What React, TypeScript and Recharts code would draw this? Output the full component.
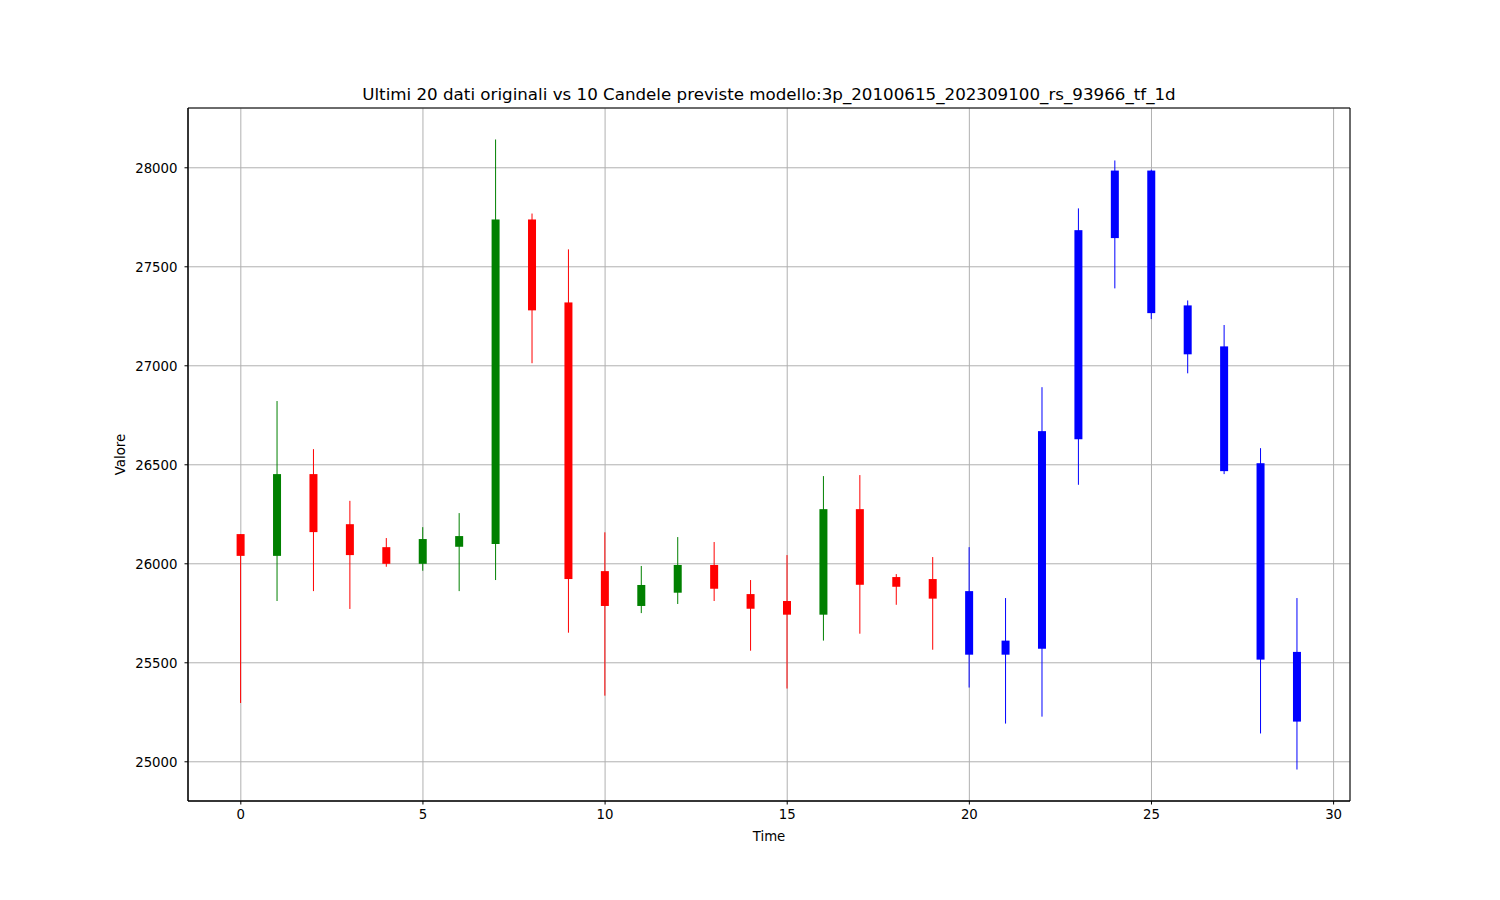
import { Bar, CartesianGrid, ComposedChart, ReferenceArea, XAxis, YAxis } from 'recharts'

const TITLE = 'Ultimi 20 dati originali vs 10 Candele previste modello:3p_20100615_202309100_rs_93966_tf_1d'
const ORIGINAL_COUNT = 20

const opens = [26150, 26040, 26453, 26200, 26084, 26000, 26086, 26100, 27739, 27320, 25963, 25787, 25854, 25994, 25847, 25812, 25743, 26276, 25933, 25923, 25862, 25541, 25571, 26629, 27645, 27986, 27305, 27098, 26508, 25555]
const closes = [26040, 26453, 26160, 26044, 26000, 26125, 26140, 27739, 27280, 25923, 25787, 25893, 25994, 25874, 25773, 25743, 26276, 25894, 25884, 25824, 25541, 25612, 26670, 27685, 27986, 27266, 27058, 26468, 25516, 25203]
const highs = [26150, 26822, 26579, 26318, 26130, 26185, 26256, 28143, 27769, 27588, 26159, 25989, 26135, 26110, 25918, 26044, 26443, 26448, 25948, 26034, 26084, 25827, 26892, 27795, 28037, 27990, 27330, 27206, 26584, 25827]
const lows = [25297, 25812, 25862, 25772, 25985, 25965, 25862, 25918, 27013, 25652, 25334, 25751, 25797, 25812, 25561, 25370, 25612, 25647, 25793, 25566, 25375, 25193, 25228, 26399, 27391, 27236, 26962, 26453, 25143, 24961]

const xTicks = [0, 5, 10, 15, 20, 25, 30]
const yTicks = [25000, 25500, 26000, 26500, 27000, 27500, 28000]
const X_DOMAIN = [-1.45, 30.45]
const Y_DOMAIN = [24802, 28302]

const data = opens.map((open, i) => ({
  t: i,
  open,
  close: closes[i],
  high: highs[i],
  low: lows[i],
  color: i >= ORIGINAL_COUNT ? '#0000ff' : closes[i] >= open ? '#008000' : '#ff0000',
}))

const FONT = 'DejaVu Sans, sans-serif'
const tickStyle = { fill: '#000', fontSize: 13.3, fontFamily: FONT }

// wick spans the bar (low..high); body placed using the bar's own pixel ratio
function Candle(props: any) {
  const { x, y, width, height, payload } = props
  const top = Math.min(y, y + height)
  const h = Math.abs(height)
  const span = payload.high - payload.low
  const ratio = span > 0 ? h / span : 0
  const bodyTop = top + (payload.high - Math.max(payload.open, payload.close)) * ratio
  const bodyH = Math.max(Math.abs(payload.open - payload.close) * ratio, 1)
  const cx = x + width / 2
  return (
    <g>
      <line x1={cx} x2={cx} y1={top} y2={top + h} stroke={payload.color} strokeWidth={1} />
      <rect x={x} y={bodyTop} width={width} height={bodyH} fill={payload.color} />
    </g>
  )
}

export default function App() {
  return (
    <div style={{ position: 'absolute', left: 0, top: 0, background: '#fff' }}>
      <ComposedChart
        width={1500}
        height={900}
        data={data}
        margin={{ top: 108, right: 150, bottom: 55, left: 108 }}
      >
        <CartesianGrid stroke="#b0b0b0" strokeWidth={1} />
        <XAxis
          dataKey="t"
          type="number"
          domain={X_DOMAIN}
          ticks={xTicks}
          allowDataOverflow
          height={44}
          tickSize={3.5}
          tickMargin={5}
          tick={tickStyle}
          stroke="#000"
          tickLine={{ stroke: '#000' }}
          axisLine={{ stroke: '#000' }}
          label={{ value: 'Time', position: 'insideBottom', offset: 4, style: { fill: '#000', fontSize: 13.3, fontFamily: FONT } }}
        />
        <YAxis
          type="number"
          domain={Y_DOMAIN}
          ticks={yTicks}
          allowDataOverflow
          width={80}
          tickSize={3.5}
          tickMargin={7}
          tick={tickStyle}
          tickLine={{ stroke: '#000' }}
          axisLine={{ stroke: '#000' }}
          label={{ value: 'Valore', angle: -90, position: 'insideLeft', offset: 12, style: { fill: '#000', fontSize: 13.3, fontFamily: FONT, textAnchor: 'middle' } }}
        />
        <Bar
          dataKey={(d: any) => [d.low, d.high]}
          barSize={8}
          shape={<Candle />}
          isAnimationActive={false}
        />
        <ReferenceArea
          x1={X_DOMAIN[0]}
          x2={X_DOMAIN[1]}
          y1={Y_DOMAIN[0]}
          y2={Y_DOMAIN[1]}
          fill="none"
          fillOpacity={0}
          stroke="#000"
          strokeWidth={1}
          ifOverflow="visible"
          label={{ value: TITLE, position: 'top', offset: 8, style: { fill: '#000', fontSize: 16.7, fontFamily: FONT } }}
        />
      </ComposedChart>
    </div>
  )
}
